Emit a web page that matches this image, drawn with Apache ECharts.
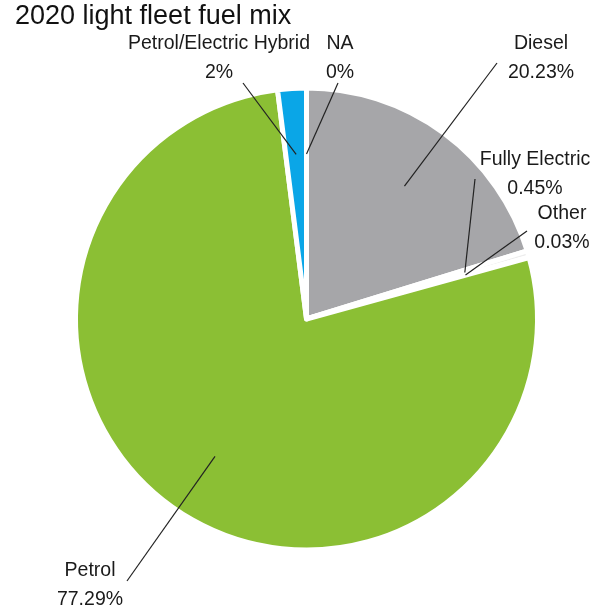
<!DOCTYPE html>
<html><head><meta charset="utf-8">
<script src="https://cdn.jsdelivr.net/npm/echarts@6/dist/echarts.min.js"></script>
<style>html,body{margin:0;padding:0;background:#fff}#c{width:607px;height:611px}</style>
</head>
<body><div id="c"></div>
<script>
const categories = ['NA', 'Diesel', 'Fully Electric', 'Other', 'Petrol', 'Petrol/Electric Hybrid'];
const shares = [0, 20.23, 0.45, 0.03, 77.29, 2];
const colors = ['#A6A6A9', '#A6A6A9', '#EDEDED', '#D9C79A', '#8BBF34', '#0AA6E7'];

// label block centres and label-line end anchors (layout only)
const labelPlacement = {
  'NA': { x: 340, y: 58, end: [338, 83] },
  'Diesel': { x: 541, y: 58, end: [497, 63] },
  'Fully Electric': { x: 535, y: 174, end: [475, 179] },
  'Other': { x: 562, y: 228, end: [527, 231] },
  'Petrol': { x: 90, y: 585, end: [127, 581] },
  'Petrol/Electric Hybrid': { x: 219, y: 58, end: [243, 83] }
};

const FONT = '"Liberation Sans", Arial, sans-serif';
const center = [306.5, 319];

const data = categories.map((c, i) => ({ name: c, value: shares[i], itemStyle: { color: colors[i] } }));

const chart = echarts.init(document.getElementById('c'), null, { renderer: 'canvas' });
chart.setOption({
  animation: false,
  backgroundColor: '#fff',
  title: {
    text: '2020 light fleet fuel mix',
    left: 15, top: 3, padding: 0,
    textStyle: { fontFamily: FONT, fontSize: 27, fontWeight: 'normal', color: '#111' }
  },
  series: [
    {
      type: 'pie', center: center, radius: 231, startAngle: 90, clockwise: true, z: 2,
      avoidLabelOverlap: false, silent: true, minAngle: 0,
      label: { show: false }, labelLine: { show: false },
      itemStyle: { borderColor: '#fff', borderWidth: 5 },
      data: data
    },
    {
      type: 'pie', center: center, radius: 165, startAngle: 90, clockwise: true, z: 5,
      avoidLabelOverlap: false, silent: true, minAngle: 0,
      itemStyle: { color: 'rgba(0,0,0,0)', borderWidth: 0 },
      label: {
        show: true, position: 'outside', formatter: '{b}\n{c}%',
        fontFamily: FONT, fontSize: 19.5, lineHeight: 29, color: '#1a1a1a', align: 'center'
      },
      labelLine: { show: true, length: 10, length2: 10, lineStyle: { color: '#222', width: 1.2 } },
      labelLayout: function (params) {
        const p = labelPlacement[categories[params.dataIndex]];
        const start = params.labelLinePoints ? params.labelLinePoints[0] : p.end;
        return {
          x: p.x, y: p.y, align: 'center', verticalAlign: 'middle',
          labelLinePoints: [start, p.end, p.end]
        };
      },
      data: categories.map((c, i) => ({ name: c, value: shares[i] }))
    }
  ]
});
</script>
</body></html>
